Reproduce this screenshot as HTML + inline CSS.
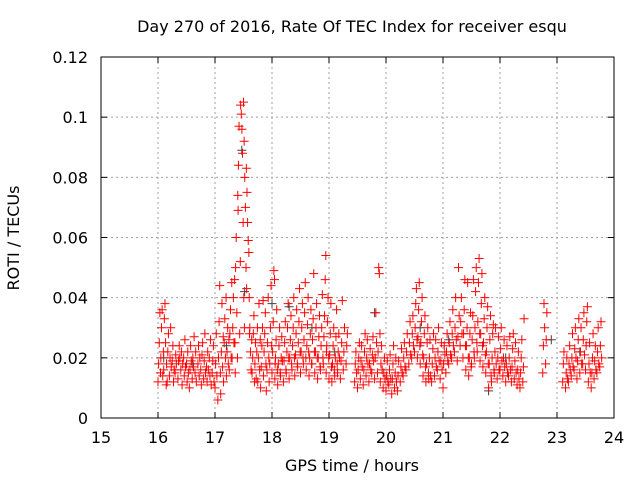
<!DOCTYPE html>
<html><head><meta charset="utf-8"><style>
html,body{margin:0;padding:0;background:#fff;}
svg{display:block;font-family:"DejaVu Sans","Liberation Sans",sans-serif;}
</style></head><body>
<svg id="chart" width="640" height="480" viewBox="0 0 640 480">
<text x="352" y="32" font-size="16" text-anchor="middle" fill="#000">Day 270 of 2016, Rate Of TEC Index for receiver esqu</text>
<text x="352" y="471" font-size="16" text-anchor="middle" fill="#000">GPS time / hours</text>
<text x="19" y="238" font-size="16" text-anchor="middle" fill="#000" transform="rotate(-90 19 238)">ROTI / TECUs</text>
<g id="grid"></g>
<g id="ticks"></g>
<g id="gray"></g>
<g id="marks"></g>
<rect x="101" y="57" width="513" height="361" fill="none" stroke="#000" stroke-width="1"/>
</svg>
<script>
const xTicks = [15,16,17,18,19,20,21,22,23,24];
const yTicks = [0,0.02,0.04,0.06,0.08,0.1,0.12];
const yTickLabels = ["0","0.02","0.04","0.06","0.08","0.1","0.12"];
const times = [16.00,16.05,16.10,16.15,16.20,16.25,16.30,16.35,16.40,16.45,16.50,16.55,16.60,16.65,16.70,16.75,16.80,16.85,16.90,16.95,
17.00,17.05,17.10,17.15,17.20,17.25,17.30,17.35,17.40,17.45,17.50,17.55,17.60,17.65,17.70,17.75,17.80,17.85,17.90,17.95,
18.00,18.05,18.10,18.15,18.20,18.25,18.30,18.35,18.40,18.45,18.50,18.55,18.60,18.65,18.70,18.75,18.80,18.85,18.90,18.95,
19.00,19.05,19.10,19.15,19.20,19.25,19.30,19.45,19.50,19.55,19.60,19.65,19.70,19.75,19.80,19.85,19.90,19.95,
20.00,20.05,20.10,20.15,20.20,20.25,20.30,20.35,20.40,20.45,20.50,20.55,20.60,20.65,20.70,20.75,20.80,20.85,20.90,20.95,
21.00,21.05,21.10,21.15,21.20,21.25,21.30,21.35,21.40,21.45,21.50,21.55,21.60,21.65,21.70,21.75,21.80,21.85,21.90,21.95,
22.00,22.05,22.10,22.15,22.20,22.25,22.30,22.35,22.40,22.75,22.80,
23.10,23.15,23.20,23.25,23.30,23.35,23.40,23.45,23.50,23.55,23.60,23.65,23.70,23.75];
const roti = [
[.012,.018,.025,.035,.015],[.02,.03,.036,.014,.022],[.016,.033,.038,.025,.011],[.018,.012,.022,.028],[.014,.02,.03,.017],
[.019,.024,.012,.016],[.015,.021,.018],[.013,.019,.024,.02],[.016,.022,.011,.018],[.02,.014,.026,.017],
[.018,.012,.022,.015],[.01,.016,.024,.019],[.013,.02,.017,.027],[.015,.022,.012],[.018,.024,.014,.02],
[.016,.011,.021,.025],[.013,.019,.028,.015],[.017,.012,.022,.016],[.02,.014,.026,.011],[.015,.019,.024,.012],
[.01,.018,.028,.014],[.006,.02,.032,.044,.015],[.008,.022,.038,.017,.027],[.012,.025,.033,.02,.04],[.014,.022,.03,.018,.026],
[.016,.028,.036,.02,.045],[.02,.03,.04,.025,.046,.015],[.025,.05,.06,.035,.02,.069],[.074,.084,.097,.028,.052],[.104,.101,.096,.088,.065,.04,.03],
[.105,.092,.08,.07,.05,.043],[.083,.075,.065,.059,.055,.028],[.04,.03,.022,.016,.026],[.015,.02,.028,.034,.012],[.018,.025,.013,.022,.03],
[.012,.02,.038,.016,.026],[.01,.017,.024,.03,.039],[.014,.022,.028,.035,.018],[.009,.016,.025,.04,.02],[.012,.018,.03,.044,.024],
[.015,.022,.032,.049,.046,.018],[.013,.02,.026,.036,.016],[.011,.018,.024,.03,.015],[.014,.02,.027,.019],[.012,.019,.025,.032,.016],
[.015,.022,.03,.038,.02],[.013,.02,.026,.034,.018],[.016,.024,.03,.04,.02],[.014,.021,.028,.036,.018],[.017,.025,.032,.043,.022],
[.015,.022,.03,.038,.02],[.018,.026,.035,.045,.02],[.016,.024,.031,.04,.022],[.014,.02,.028,.036,.018],[.018,.026,.033,.048,.022],
[.015,.022,.03,.038,.02],[.013,.02,.027,.034,.017],[.016,.024,.03,.041,.02],[.018,.027,.034,.046,.054,.022],[.015,.024,.032,.04,.02],
[.013,.021,.028,.038,.017],[.012,.018,.024,.03,.016],[.014,.02,.027,.036,.018],[.015,.022,.028,.02],[.013,.019,.025,.039],
[.016,.022,.03],[.018,.024,.028],[.012,.018,.022,.015],[.01,.016,.02,.025],[.013,.019,.024,.017],
[.011,.016,.022,.028],[.014,.02,.026,.018],[.012,.018,.023,.016],[.015,.021,.027,.019],[.013,.02,.035,.025],
[.015,.022,.05,.048,.028],[.012,.018,.024,.016],[.01,.015,.02,.013],
[.009,.014,.019,.012],[.011,.016,.021,.013],[.008,.013,.018,.024],[.01,.015,.02,.012],[.009,.014,.019],
[.012,.017,.023,.015],[.014,.02,.025,.017],[.016,.022,.028],[.018,.025,.032,.021],[.02,.028,.034,.024],
[.022,.03,.038,.043,.026],[.02,.027,.036,.045,.024],[.018,.025,.032,.04,.021],[.014,.02,.028,.034,.017],[.012,.018,.025,.03,.015],
[.013,.02,.026,.014],[.012,.018,.023,.028],[.014,.02,.026,.017],[.016,.022,.03,.019],[.013,.019,.025,.016],
[.01,.018,.024,.021],[.015,.022,.028,.019],[.018,.025,.032,.021],[.02,.028,.036,.024],[.022,.03,.04,.026],
[.019,.027,.05,.034],[.024,.032,.04,.028],[.02,.028,.036,.046,.024],[.016,.024,.03,.045,.02],[.014,.02,.028,.035,.017],
[.018,.026,.034,.046,.022],[.02,.03,.042,.05,.025],[.022,.032,.045,.053,.028],[.019,.028,.038,.048,.024],[.017,.025,.033,.04,.021],
[.015,.022,.03,.037,.018],[.01,.018,.026,.034,.014],[.012,.02,.028,.031,.016],[.015,.022,.03,.018],[.013,.02,.027,.016],
[.016,.023,.03,.019],[.014,.02,.026,.017],[.012,.018,.024,.015],[.014,.02,.027,.016],[.012,.017,.023,.028],
[.013,.019,.025,.015],[.011,.016,.022,.013],[.01,.015,.02,.026],[.012,.017,.033],[.015,.024,.038,.03],[.018,.026,.035],
[.012,.018,.022],[.01,.015,.02,.013],[.012,.018,.024,.016],[.014,.02,.028,.017],[.016,.023,.03,.02],
[.013,.019,.026,.033],[.015,.022,.03,.018],[.018,.026,.035,.021],[.016,.024,.032,.037],[.012,.018,.025,.015],
[.01,.015,.02,.028],[.013,.019,.024,.016],[.015,.022,.03,.018],[.017,.024,.032,.02]];
const grayHours = [16.1,16.6,17.2,17.47,17.52,18.0,18.3,18.7,19.1,19.8,20.6,21.1,21.8,22.1,22.9,23.4];
const grayRoti = [.02,.018,.024,.089,.042,.038,.037,.03,.022,.035,.03,.026,.009,.02,.026,.022];

const NS="http://www.w3.org/2000/svg";
const L=101,R=614,T=57,B=418;
const xs=h=>L+(h-15)/9*(R-L);
const ys=v=>B-v/0.12*(B-T);
function mk(tag,attrs,parent){const e=document.createElementNS(NS,tag);for(const k in attrs)e.setAttribute(k,attrs[k]);parent.appendChild(e);return e;}
const grid=document.getElementById('grid'),ticks=document.getElementById('ticks');
xTicks.forEach((t,i)=>{
  const x=xs(t);
  if(i>0&&i<xTicks.length-1){const g=mk('line',{x1:x,y1:T,x2:x,y2:B,stroke:'#a0a0a0','stroke-dasharray':'2,3'},grid);
  
  }
  mk('line',{x1:x,y1:B,x2:x,y2:B-6,stroke:'#000'},ticks);
  mk('line',{x1:x,y1:T,x2:x,y2:T+6,stroke:'#000'},ticks);
  const tx=mk('text',{x:x,y:B+25,'font-size':16,'text-anchor':'middle'},ticks);
  tx.textContent=t;
  
  
});
yTicks.forEach((v,i)=>{
  const y=ys(v);
  if(i>0&&i<yTicks.length-1){const g=mk('line',{x1:L,y1:y,x2:R,y2:y,stroke:'#a0a0a0','stroke-dasharray':'2,3'},grid);
  
  }
  mk('line',{x1:L,y1:y,x2:L+6,y2:y,stroke:'#000'},ticks);
  mk('line',{x1:R,y1:y,x2:R-6,y2:y,stroke:'#000'},ticks);
  const tx=mk('text',{x:88,y:y+6,'font-size':16,'text-anchor':'end'},ticks);
  tx.textContent=yTickLabels[i];
  
  
});
function plus(parent,h,v,color){
  const x=xs(h),y=ys(v);
  const p=mk('path',{d:`M${x-4.5},${y}H${x+4.5}M${x},${y-4.5}V${y+4.5}`,stroke:color,'stroke-width':1,fill:'none'},parent);
  
  
}
const gray=document.getElementById('gray');
grayHours.forEach((h,i)=>plus(gray,h,grayRoti[i],'#404040'));
const marks=document.getElementById('marks');
times.forEach((t,i)=>{roti[i].forEach((v,k)=>plus(marks,t+k*0.011,v,'#ff0000'));});
</script>
</body></html>
